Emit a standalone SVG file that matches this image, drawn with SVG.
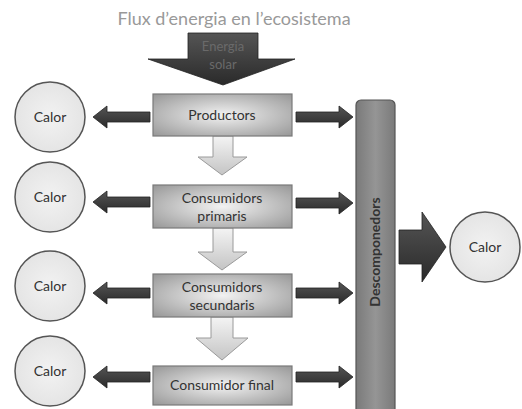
<svg xmlns="http://www.w3.org/2000/svg" width="522" height="409" viewBox="0 0 522 409">
<defs>
<radialGradient id="boxG" cx="50%" cy="50%" r="70%">
<stop offset="0" stop-color="#f2f2f2"/>
<stop offset="1" stop-color="#979797"/>
</radialGradient>
<linearGradient id="downG" x1="0" y1="0" x2="0" y2="1">
<stop offset="0" stop-color="#f4f4f4"/>
<stop offset="1" stop-color="#c4c4c4"/>
</linearGradient>
<linearGradient id="darkG" x1="0" y1="0" x2="0" y2="1">
<stop offset="0" stop-color="#555"/>
<stop offset="1" stop-color="#2a2a2a"/>
</linearGradient>
<linearGradient id="barG" x1="0" y1="0" x2="1" y2="0">
<stop offset="0" stop-color="#7a7a7a"/>
<stop offset="0.5" stop-color="#959595"/>
<stop offset="1" stop-color="#7a7a7a"/>
</linearGradient>
<radialGradient id="circG" cx="50%" cy="50%" r="60%">
<stop offset="0" stop-color="#f2f2f2"/>
<stop offset="1" stop-color="#e2e2e2"/>
</radialGradient>
</defs>
<style>
text{font-family:Lato,"Open Sans","Liberation Sans",sans-serif;text-anchor:middle}
.box{fill:url(#boxG);stroke:#7a7a7a;stroke-width:1.2}
.lbl{font-size:14px;fill:#333}
.circ{fill:url(#circG);stroke:#555;stroke-width:1.5}
.dark{fill:url(#darkG);stroke:#222;stroke-width:0.8}
.down{fill:url(#downG);stroke:#9a9a9a;stroke-width:1}
</style>
<rect width="522" height="409" fill="#fff"/>
<text x="234" y="25" style="font-size:18px;fill:#999">Flux d’energia en l’ecosistema</text>

<g id="connectors">
<path class="dark" d="M188,33 H258 V59 H295 L223,85 L148,59 H188 Z"/>
<path class="down" d="M213,136 H233 V157 H247 L222,175 L198,157 H213 Z"/>
<path class="down" d="M213,228 H233 V252 H247 L222,270 L198,252 H213 Z"/>
<path class="down" d="M211,317 H233 V338 H248 L222,360 L196,338 H211 Z"/>
<path class="dark" d="M150,112 H107 V106 L93,117 L107,128 V122 H150 Z"/>
<path class="dark" d="M150,197 H107 V191 L93,202 L107,213 V207 H150 Z"/>
<path class="dark" d="M150,288 H107 V282 L93,293 L107,304 V298 H150 Z"/>
<path class="dark" d="M150,372 H107 V366 L93,377 L107,388 V382 H150 Z"/>
<path class="dark" d="M296,112 H339 V106 L353,117 L339,128 V122 H296 Z"/>
<path class="dark" d="M296,198 H339 V192 L353,203 L339,214 V208 H296 Z"/>
<path class="dark" d="M296,288 H339 V282 L353,293 L339,304 V298 H296 Z"/>
<path class="dark" d="M296,372 H339 V366 L353,377 L339,388 V382 H296 Z"/>
<path class="dark" d="M399,230 H422 V212 L446,247 L422,282 V264 H399 Z"/>
</g>
<text x="223" y="51" style="font-size:13px;fill:#6a6a6a">Energia</text>
<text x="223" y="69" style="font-size:13px;fill:#6a6a6a">solar</text>

<g id="productors"><rect class="box" x="153" y="94" width="139" height="42"/><text class="lbl" x="222" y="120">Productors</text></g>
<g id="primaris"><rect class="box" x="153" y="185" width="139" height="43"/><text class="lbl" x="222" y="203">Consumidors</text><text class="lbl" x="222" y="221">primaris</text></g>
<g id="secundaris"><rect class="box" x="153" y="274" width="139" height="43"/><text class="lbl" x="222" y="292">Consumidors</text><text class="lbl" x="222" y="310">secundaris</text></g>
<g id="final"><rect class="box" x="153" y="366" width="139" height="39"/><text class="lbl" x="222" y="390">Consumidor final</text></g>

<g id="descomponedors"><rect x="356" y="100" width="39" height="320" rx="5" fill="url(#barG)" stroke="#555" stroke-width="1.2"/><text transform="translate(380,252) rotate(-90)" style="font-size:14px;font-weight:bold;fill:#333">Descomponedors</text></g>

<g id="calor1"><circle class="circ" cx="50" cy="117" r="35"/><text class="lbl" x="50" y="122">Calor</text></g>
<g id="calor2"><circle class="circ" cx="50" cy="197" r="35"/><text class="lbl" x="50" y="202">Calor</text></g>
<g id="calor3"><circle class="circ" cx="50" cy="286" r="35"/><text class="lbl" x="50" y="291">Calor</text></g>
<g id="calor4"><circle class="circ" cx="50" cy="371" r="35"/><text class="lbl" x="50" y="376">Calor</text></g>
<g id="calor5"><circle class="circ" cx="485" cy="247" r="35"/><text class="lbl" x="485" y="252">Calor</text></g>
</svg>
